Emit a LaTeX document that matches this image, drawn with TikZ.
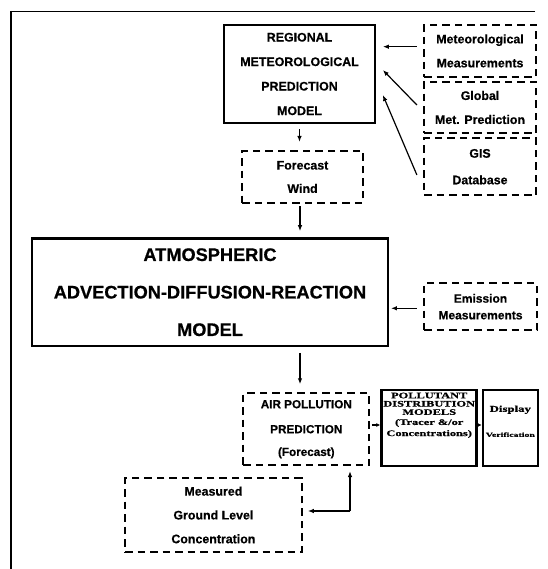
\documentclass[tikz,border=0pt]{standalone}
\usepackage{fontspec}
\usepackage{graphicx}
\setmainfont{Liberation Sans}[BoldFeatures={FakeBold=0.6}]
\newfontfamily\timesb{Liberation Serif}[BoldFeatures={FakeBold=0.6}]
\usetikzlibrary{arrows.meta,calc}
\tikzset{
  solidbox/.style={draw, line width=2.3pt, inner sep=0pt, align=center,
    font=\bfseries\fontsize{12.4}{24.5}\selectfont},
  dashbox/.style={draw, line width=2.2pt, dash pattern=on 7.5pt off 5pt,
    inner sep=0pt, align=center, font=\bfseries\fontsize{12.4}{24}\selectfont},
  plaintext/.style={inner sep=0pt, align=center},
  arr/.style={line width=1.2pt, -{Latex[length=6pt,width=4.6pt]}},
  smallarr/.style={line width=1.2pt, -{Latex[length=4pt,width=4pt]}},
}
\begin{document}
\begin{tikzpicture}[x=1pt,y=-1pt]
\useasboundingbox (0,0) rectangle (547,569);
% frame
\draw[line width=1.3pt] (535,11.7) -- (10.5,11.7);
\draw[line width=2pt] (10.5,11) -- (10.5,569);

% nodes
\node[solidbox, minimum width=151pt, minimum height=98pt] (regional) at (299.5,74)
  {REGIONAL\\METEOROLOGICAL\\PREDICTION\\MODEL};
\node[dashbox, minimum width=112pt, minimum height=51.7pt] (met) at (480,50.9)
  {Meteorological\\Measurements};
\node[dashbox, minimum width=112pt, minimum height=51.6pt] (global) at (480,107.5)
  {Global\\Met. Prediction};
\node[dashbox, minimum width=112pt, minimum height=56.7pt,
  font=\bfseries\fontsize{12.4}{26.6}\selectfont] (gis) at (480,166.7)
  {GIS\\Database};
\node[dashbox, minimum width=120.4pt, minimum height=52pt,
  font=\bfseries\fontsize{12.4}{23.3}\selectfont] (wind) at (302.5,177)
  {Forecast\\Wind};
\node[solidbox, minimum width=356.6pt, minimum height=107.7pt,
  font=\bfseries\fontsize{18.2}{37.5}\selectfont] (atm) at (210,292.2)
  {ATMOSPHERIC\\ADVECTION-DIFFUSION-REACTION\\MODEL};
\node[dashbox, minimum width=113pt, minimum height=46.7pt,
  font=\bfseries\fontsize{12}{16.7}\selectfont] (emission) at (480.5,306.7)
  {Emission\\Measurements};
\node[dashbox, minimum width=126pt, minimum height=71.7pt,
  font=\bfseries\fontsize{11.7}{25}\selectfont] (air) at (306.3,429.2)
  {AIR POLLUTION\\PREDICTION\\[-2.3pt](Forecast)};
\node[draw, line width=2.8pt, inner sep=0pt, minimum width=95pt, minimum height=76pt]
  (poll) at (429.2,428) {};
\node[plaintext] (polltext) at (429.2,415.5)
  {\scalebox{1.46}[1]{\timesb\bfseries\fontsize{8.5}{8.3}\selectfont
   \begin{tabular}{@{}c@{}}POLLUTANT\\DISTRIBUTION\\MODELS\\[1.7pt](Tracer \&/or\\[2.7pt]Concentrations)\end{tabular}}};
\node[draw, line width=2pt, inner sep=0pt, minimum width=55.6pt, minimum height=76pt]
  (display) at (510.5,428) {};
\node[plaintext] (disptext) at (510.3,421.3)
  {\scalebox{1.42}[1]{\timesb\bfseries\fontsize{9}{9}\selectfont Display}\\[13pt]
   \scalebox{1.55}[1]{\timesb\bfseries\fontsize{6.3}{7}\selectfont Verification}};
\node[dashbox, minimum width=176.7pt, minimum height=73.4pt,
  font=\bfseries\fontsize{12.4}{23.8}\selectfont] (measured) at (213.4,515)
  {Measured\\Ground Level\\Concentration};

% connectors
\draw[arr] ($(met.west)+(-6,-4.2)$) -- ($(regional.east)+(6.7,-27.3)$);
\draw[arr] ($(global.west)+(-6,-2.5)$) -- ($(regional.east)+(6.7,-4)$);
\draw[arr] ($(gis.west)+(-6,8.3)$) -- ($(regional.east)+(6.7,21)$);
\draw[arr, shorten <=5pt, shorten >=8pt] (regional.south) -- (regional.south |- wind.north);
\coordinate (w1) at ($(wind.south)+(-2.5,0)$);
\draw[arr, shorten <=2pt, shorten >=6pt] (w1) -- (w1 |- atm.north);
\coordinate (e1) at ($(emission.west)+(0,1.6)$);
\draw[arr, shorten <=6pt, shorten >=1.5pt] (e1) -- (e1 -| atm.east);
\coordinate (a1) at ($(air.north)+(-6.3,0)$);
\draw[arr, shorten <=5.7pt, shorten >=8pt] (a1 |- atm.south) -- (a1);
\coordinate (p1) at ($(poll.west)+(0,-3)$);
\draw[smallarr, shorten <=1.5pt] (p1 -| air.east) -- (p1);
\draw[smallarr] (p1 -| poll.east) -- (p1 -| display.west);
\coordinate (junc) at (350,511);
\draw[arr, shorten >=5pt] (junc) -- (junc |- air.south);
\draw[arr, shorten >=5pt] (junc) -- (junc -| measured.east);
\end{tikzpicture}
\end{document}
